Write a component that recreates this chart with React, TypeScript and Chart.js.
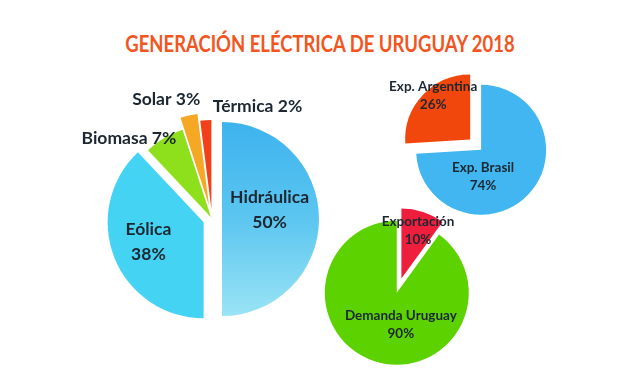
import React, { useEffect, useRef } from "react";
import { Chart, registerables } from "chart.js";

Chart.register(...registerables);

// ---- data ----
const GEN_LABELS = ["Hidráulica", "Eólica", "Biomasa", "Solar", "Térmica"];
const GEN_VALUES = [50, 38, 7, 3, 2];
const EXP_LABELS = ["Exp. Brasil", "Exp. Argentina"];
const EXP_VALUES = [74, 26];
const DEM_LABELS = ["Exportación", "Demanda Uruguay"];
const DEM_VALUES = [10, 90];
const TITLE = "GENERACIÓN ELÉCTRICA DE URUGUAY 2018";

// ---- styles ----
const W = 640;
const H = 384;
const TEXT = "#1c2731";
const FONT = "Lato, 'Open Sans', sans-serif";

type PieSpec = {
  labels: string[];
  values: number[];
  colors: (string | "hgrad")[];
  center: [number, number];
  explode: number[];
  radii: number[];
  labelAngle: number[];
  labelDist: number[];
  twoLine: boolean[];
  fontSize: number;
  lineGap: number;
};

const PIES: PieSpec[] = [
  {
    labels: GEN_LABELS,
    values: GEN_VALUES,
    colors: ["hgrad", "#45d3f4", "#8fe01c", "#f4a824", "#f2411a"],
    center: [212, 219],
    explode: [10, 9, 2, 14, 10],
    radii: [97, 96, 92, 92, 89],
    labelAngle: [79, 250.5, 314, 338, 24.3],
    labelDist: [0.5, 0.61, 1.24, 1.24, 1.26],
    twoLine: [true, true, false, false, false],
    fontSize: 17.5,
    lineGap: 25,
  },
  {
    labels: EXP_LABELS,
    values: EXP_VALUES,
    colors: ["#41b6f1", "#f2470c"],
    center: [476, 145],
    explode: [7, 8],
    radii: [65, 65],
    labelAngle: [176, 319.7],
    labelDist: [0.42, 0.88],
    twoLine: [true, true],
    fontSize: 13.5,
    lineGap: 18,
  },
  {
    labels: DEM_LABELS,
    values: DEM_VALUES,
    colors: ["#ee1f3d", "#5cd300"],
    center: [398, 289],
    explode: [11, 4],
    radii: [70, 72],
    labelAngle: [19, 172.6],
    labelDist: [0.73, 0.44],
    twoLine: [true, true],
    fontSize: 13.5,
    lineGap: 18,
  },
];

function makeExplodePlugin(spec: PieSpec) {
  return {
    id: "explodeSlices",
    afterDatasetUpdate(chart: any, args: any) {
      const meta = args.meta;
      meta.data.forEach((arc: any, i: number) => {
        const mid = (arc.startAngle + arc.endAngle) / 2;
        const d = spec.explode[i] || 0;
        arc.x = arc.x + Math.cos(mid) * d;
        arc.y = arc.y + Math.sin(mid) * d;
        arc.outerRadius = spec.radii[i];
      });
    },
  };
}

function makeLabelPlugin(spec: PieSpec) {
  return {
    id: "sliceLabels",
    afterDatasetsDraw(chart: any) {
      const ctx = chart.ctx;
      const meta = chart.getDatasetMeta(0);
      ctx.save();
      ctx.fillStyle = TEXT;
      ctx.textAlign = "center";
      ctx.textBaseline = "middle";
      ctx.font = `bold ${spec.fontSize}px ${FONT}`;
      meta.data.forEach((arc: any, i: number) => {
        const a = ((spec.labelAngle[i] - 90) * Math.PI) / 180;
        const r = arc.outerRadius * spec.labelDist[i];
        const x = arc.x + Math.cos(a) * r;
        const y = arc.y + Math.sin(a) * r;
        const name = spec.labels[i];
        const pct = `${spec.values[i]}%`;
        if (spec.twoLine[i]) {
          ctx.fillText(name, x, y - spec.lineGap / 2);
          ctx.fillText(pct, x, y + spec.lineGap / 2);
        } else {
          ctx.fillText(`${name} ${pct}`, x, y);
        }
      });
      ctx.restore();
    },
  };
}

function PieCanvas({ spec }: { spec: PieSpec }) {
  const ref = useRef<HTMLCanvasElement | null>(null);
  useEffect(() => {
    if (!ref.current) return;
    const h = 90;
    const [cx, cy] = spec.center;
    const chart = new Chart(ref.current, {
      type: "pie",
      data: {
        labels: spec.labels,
        datasets: [
          {
            data: spec.values,
            borderWidth: 0,
            backgroundColor: (c: any) => {
              const col = spec.colors[c.dataIndex];
              if (col !== "hgrad") return col;
              const chartArea = c.chart.chartArea;
              if (!chartArea) return "#5cc4f0";
              const my = (chartArea.top + chartArea.bottom) / 2;
              const r = spec.radii[c.dataIndex];
              const g = c.chart.ctx.createLinearGradient(0, my - r, 0, my + r);
              g.addColorStop(0, "#3db3ee");
              g.addColorStop(0.5, "#5cc6f0");
              g.addColorStop(1, "#9ae4f5");
              return g;
            },
          },
        ],
      },
      options: {
        responsive: false,
        animation: false,
        events: [],
        radius: 95,
        layout: {
          padding: { left: cx - h, right: W - cx - h, top: cy - h, bottom: H - cy - h },
        },
        plugins: {
          legend: { display: false },
          tooltip: { enabled: false },
          title: { display: false },
        },
      } as any,
      plugins: [makeExplodePlugin(spec), makeLabelPlugin(spec)],
    });
    return () => chart.destroy();
  }, [spec]);
  return (
    <canvas
      ref={ref}
      width={W}
      height={H}
      style={{ position: "absolute", left: 0, top: 0, width: W, height: H }}
    />
  );
}

export default function App() {
  return (
    <div
      style={{
        position: "absolute",
        left: 0,
        top: 0,
        width: W,
        height: H,
        background: "#ffffff",
        overflow: "hidden",
      }}
    >
      <div
        style={{
          position: "absolute",
          left: 0,
          top: 29,
          width: W,
          textAlign: "center",
          color: "#f2551d",
          fontFamily: "Lato, sans-serif",
          fontWeight: "bold",
          fontSize: 22.5,
          lineHeight: "30px",
          transform: "scaleX(0.82)",
          transformOrigin: "320px 50%",
          whiteSpace: "nowrap",
        }}
      >
        {TITLE}
      </div>
      {PIES.map((p, i) => (
        <PieCanvas key={i} spec={p} />
      ))}
    </div>
  );
}
